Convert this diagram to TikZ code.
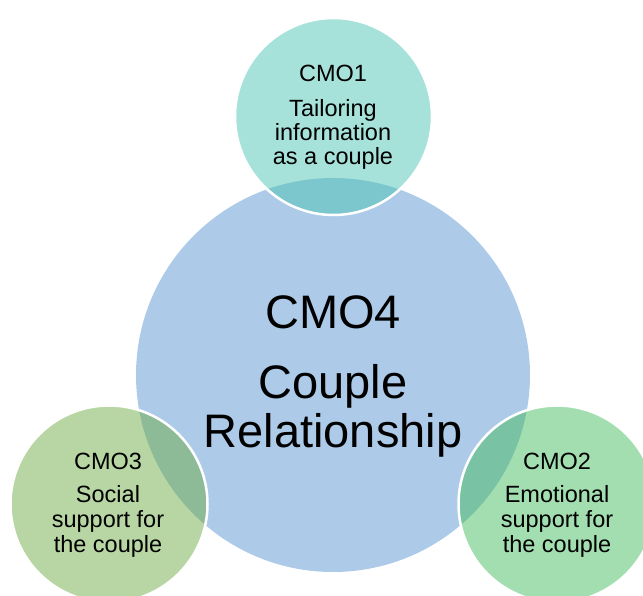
\documentclass[tikz,border=0pt]{standalone}
\usepackage{fontspec}
\setmainfont{Liberation Sans}
\definecolor{bigblue}{RGB}{173,203,233}
\definecolor{tealc}{RGB}{77,197,181}
\definecolor{leafc}{RGB}{113,173,71}
\definecolor{mintc}{RGB}{71,189,97}
\begin{document}
\begin{tikzpicture}[x=1pt,y=-1pt,
  smallcirc/.style={circle, draw=white, line width=2.5pt, fill opacity=0.5, draw opacity=1, minimum size=197pt, inner sep=0pt},
  bigcirc/.style={circle, fill=bigblue, minimum size=394pt, inner sep=0pt},
  smalltxt/.style={anchor=base, inner sep=0pt, font=\fontsize{23.5pt}{26pt}\selectfont},
  bigtxt/.style={anchor=base, inner sep=0pt, font=\fontsize{47pt}{52pt}\selectfont}]
\useasboundingbox (0,0) rectangle (643,595);
\node[bigcirc] (c4) at (333,375) {};
\node[smallcirc, fill=tealc] (c1) at (333.5,116.5) {};
\node[smallcirc, fill=leafc] (c3) at (109,504) {};
\node[smallcirc, fill=mintc] (c2) at (557,504) {};
% CMO4
\node[bigtxt] (t4a) at (333,328) {CMO4};
\node[bigtxt] (t4b) at (333,398) {Couple};
\node[bigtxt] (t4c) at (333,447) {Relationship};
% CMO1
\node[smalltxt] (t1a) at (333,81) {CMO1};
\node[smalltxt] (t1b) at (333,116) {Tailoring};
\node[smalltxt] (t1c) at (333,140.5) {information};
\node[smalltxt] (t1d) at (333,164) {as a couple};
% CMO3
\node[smalltxt] (t3a) at (108,469) {CMO3};
\node[smalltxt] (t3b) at (108,502) {Social};
\node[smalltxt] (t3c) at (108,527) {support for};
\node[smalltxt] (t3d) at (108,552) {the couple};
% CMO2
\node[smalltxt] (t2a) at (557,469) {CMO2};
\node[smalltxt] (t2b) at (557,502) {Emotional};
\node[smalltxt] (t2c) at (557,527) {support for};
\node[smalltxt] (t2d) at (557,552) {the couple};
\end{tikzpicture}
\end{document}
